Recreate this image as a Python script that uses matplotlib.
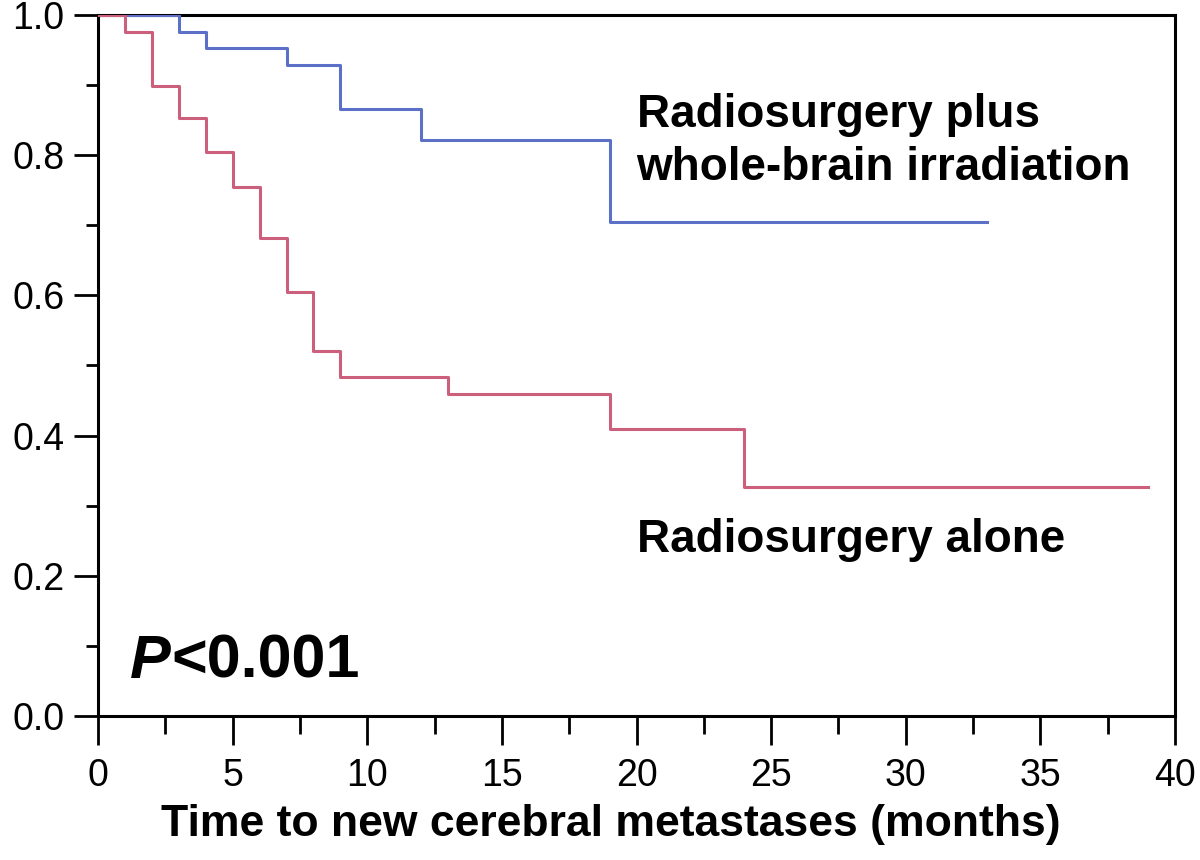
import numpy as np
import matplotlib
matplotlib.use("Agg")
import matplotlib.pyplot as plt

# Kaplan-Meier step data
wbi_time = [0, 3, 4, 7, 9, 12, 19, 33]
wbi_surv = [1.0, 0.976, 0.953, 0.929, 0.866, 0.822, 0.705, 0.705]

srs_time = [0, 1, 2, 3, 4, 5, 6, 7, 8, 9, 13, 19, 24, 39]
srs_surv = [1.0, 0.976, 0.899, 0.853, 0.805, 0.755, 0.682, 0.605, 0.520,
            0.484, 0.460, 0.409, 0.327, 0.327]

x_ticks = [0, 5, 10, 15, 20, 25, 30, 35, 40]
y_ticks = [0.0, 0.2, 0.4, 0.6, 0.8, 1.0]

plt.rcParams['font.family'] = ['Liberation Sans', 'DejaVu Sans']

fig = plt.figure(figsize=(12, 8.6), dpi=100)
ax = fig.add_axes([0.0817, 0.1674, 0.8975, 0.8152])

ax.step(wbi_time, wbi_surv, where='post', color='#5b70c6', lw=2.2, zorder=3)
ax.step(srs_time, srs_surv, where='post', color='#cc5f7c', lw=2.2, zorder=3)

ax.set_xlim(0, 40)
ax.set_ylim(0, 1.0)
ax.set_xticks(x_ticks)
ax.set_xticks(np.arange(2.5, 40, 5), minor=True)
ax.set_yticks(y_ticks)
ax.set_yticks(np.arange(0.1, 1.0, 0.2), minor=True)
ax.set_yticklabels([f"{v:.1f}" for v in y_ticks])

for s in ax.spines.values():
    s.set_linewidth(2.2)
    s.set_color('black')

ax.tick_params(axis='both', which='both', direction='out', width=2, color='black')
ax.tick_params(axis='x', which='major', length=21, pad=9, labelsize=27)
ax.tick_params(axis='x', which='minor', length=13)
ax.tick_params(axis='y', which='major', length=17, pad=7, labelsize=27)
ax.tick_params(axis='y', which='minor', length=9)

ax.set_xlabel('Time to new cerebral metastases (months)', fontsize=32, fontweight='bold')
ax.xaxis.set_label_coords(0.476, -0.125)

ax.text(20.0, 0.857, 'Radiosurgery plus', fontsize=33, fontweight='bold', va='center', ha='left')
ax.text(20.0, 0.782, 'whole-brain irradiation', fontsize=33, fontweight='bold', va='center', ha='left')
ax.text(20.0, 0.251, 'Radiosurgery alone', fontsize=33, fontweight='bold', va='center', ha='left')

ptxt = ax.text(1.2, 0.077, 'P', fontsize=44, fontweight='bold', fontstyle='italic',
               va='center', ha='left')
ax.annotate('<0.001', xy=(1, 0.5), xycoords=ptxt, fontsize=44, fontweight='bold',
            va='center', ha='left')

fig.savefig('out.png', dpi=100)
